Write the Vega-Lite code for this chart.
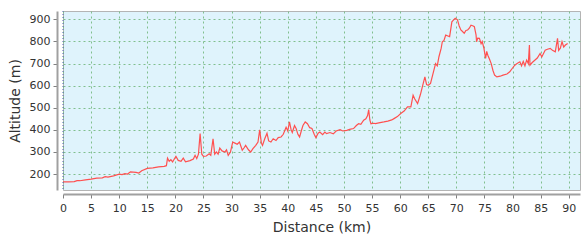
{
  "$schema": "https://vega.github.io/schema/vega-lite/v6.json",
  "autosize": {"type": "none"},
  "padding": {"left": 63, "top": 11, "right": 3, "bottom": 52},
  "width": 517,
  "height": 179,
  "background": "white",
  "config": {
    "view": {"fill": "#dff3fc", "stroke": "#b4b4b4", "strokeWidth": 1},
    "axis": {
      "labelFont": "DejaVu Sans",
      "titleFont": "DejaVu Sans",
      "labelFontSize": 11,
      "titleFontSize": 14,
      "titleFontWeight": "normal",
      "labelColor": "#333333",
      "titleColor": "#333333",
      "domainColor": "#a0a0a0",
      "domainWidth": 2,
      "tickColor": "#808080",
      "tickSize": 4,
      "gridColor": "#80bf8e",
      "gridDash": [2, 3],
      "gridWidth": 1,
      "gridOpacity": 1
    }
  },
  "data": {"values": [
    {"km":0,"alt":165},{"km":1,"alt":165},{"km":2,"alt":166},{"km":2.5,"alt":170},{"km":3,"alt":170},{"km":4,"alt":174},{"km":5,"alt":177},{"km":6,"alt":182},{"km":7,"alt":183},{"km":7.5,"alt":188},{"km":8,"alt":186},{"km":9,"alt":192},{"km":10,"alt":200},{"km":10.5,"alt":198},{"km":11,"alt":202},{"km":11.5,"alt":200},{"km":12,"alt":210},{"km":13,"alt":208},{"km":13.5,"alt":205},{"km":14,"alt":215},{"km":15,"alt":226},{"km":16,"alt":228},{"km":17,"alt":233},{"km":18,"alt":235},{"km":18.4,"alt":238},{"km":18.6,"alt":272},{"km":18.9,"alt":258},{"km":19.2,"alt":265},{"km":19.5,"alt":255},{"km":19.8,"alt":268},{"km":20.1,"alt":280},{"km":20.5,"alt":262},{"km":21,"alt":258},{"km":21.4,"alt":272},{"km":21.8,"alt":256},{"km":22.6,"alt":261},{"km":23.2,"alt":268},{"km":23.5,"alt":285},{"km":23.8,"alt":270},{"km":24.1,"alt":290},{"km":24.4,"alt":383},{"km":24.7,"alt":290},{"km":25,"alt":280},{"km":25.5,"alt":282},{"km":26,"alt":292},{"km":26.3,"alt":285},{"km":26.7,"alt":360},{"km":27,"alt":290},{"km":27.3,"alt":300},{"km":27.6,"alt":290},{"km":27.9,"alt":318},{"km":28.3,"alt":305},{"km":28.8,"alt":300},{"km":29.1,"alt":310},{"km":29.4,"alt":285},{"km":29.8,"alt":300},{"km":30.2,"alt":345},{"km":30.6,"alt":340},{"km":31,"alt":335},{"km":31.4,"alt":345},{"km":31.9,"alt":308},{"km":32.2,"alt":318},{"km":32.5,"alt":330},{"km":33,"alt":310},{"km":33.4,"alt":300},{"km":33.8,"alt":315},{"km":34.3,"alt":330},{"km":34.7,"alt":345},{"km":35,"alt":400},{"km":35.3,"alt":340},{"km":35.5,"alt":330},{"km":35.9,"alt":360},{"km":36.3,"alt":385},{"km":36.6,"alt":350},{"km":37,"alt":345},{"km":37.4,"alt":360},{"km":37.9,"alt":352},{"km":38.3,"alt":365},{"km":38.8,"alt":368},{"km":39.2,"alt":380},{"km":39.7,"alt":412},{"km":40,"alt":395},{"km":40.3,"alt":436},{"km":40.6,"alt":400},{"km":40.8,"alt":388},{"km":41.2,"alt":420},{"km":41.5,"alt":405},{"km":41.8,"alt":380},{"km":42.1,"alt":368},{"km":42.4,"alt":395},{"km":42.7,"alt":420},{"km":43.1,"alt":436},{"km":43.5,"alt":428},{"km":43.9,"alt":410},{"km":44.3,"alt":406},{"km":44.7,"alt":380},{"km":45,"alt":365},{"km":45.4,"alt":385},{"km":45.7,"alt":390},{"km":46.2,"alt":378},{"km":46.6,"alt":390},{"km":46.9,"alt":383},{"km":47.5,"alt":388},{"km":48.1,"alt":382},{"km":48.6,"alt":395},{"km":49.3,"alt":401},{"km":49.8,"alt":395},{"km":50.5,"alt":398},{"km":51,"alt":402},{"km":51.7,"alt":406},{"km":52.2,"alt":420},{"km":52.6,"alt":428},{"km":53,"alt":425},{"km":53.5,"alt":444},{"km":53.9,"alt":450},{"km":54.2,"alt":465},{"km":54.4,"alt":492},{"km":54.6,"alt":445},{"km":54.8,"alt":428},{"km":55.3,"alt":430},{"km":55.6,"alt":428},{"km":56.2,"alt":432},{"km":57.1,"alt":436},{"km":57.8,"alt":440},{"km":58.5,"alt":445},{"km":58.9,"alt":451},{"km":59.5,"alt":460},{"km":60.1,"alt":474},{"km":60.7,"alt":485},{"km":61.3,"alt":504},{"km":61.9,"alt":504},{"km":62.3,"alt":557},{"km":62.6,"alt":540},{"km":63.1,"alt":519},{"km":63.6,"alt":560},{"km":64,"alt":600},{"km":64.4,"alt":640},{"km":64.7,"alt":605},{"km":65,"alt":602},{"km":65.4,"alt":610},{"km":65.9,"alt":660},{"km":66.3,"alt":700},{"km":66.6,"alt":690},{"km":66.9,"alt":731},{"km":67.3,"alt":770},{"km":67.5,"alt":799},{"km":67.8,"alt":805},{"km":68.1,"alt":829},{"km":68.5,"alt":825},{"km":68.8,"alt":822},{"km":69.2,"alt":889},{"km":69.6,"alt":900},{"km":69.8,"alt":905},{"km":70.2,"alt":898},{"km":70.5,"alt":870},{"km":70.8,"alt":852},{"km":71.1,"alt":845},{"km":71.4,"alt":837},{"km":71.7,"alt":850},{"km":72,"alt":852},{"km":72.3,"alt":860},{"km":72.6,"alt":874},{"km":73,"alt":870},{"km":73.2,"alt":867},{"km":73.5,"alt":830},{"km":73.6,"alt":799},{"km":73.8,"alt":815},{"km":74.1,"alt":814},{"km":74.4,"alt":790},{"km":74.6,"alt":800},{"km":74.9,"alt":770},{"km":75.2,"alt":723},{"km":75.4,"alt":755},{"km":75.6,"alt":738},{"km":75.9,"alt":720},{"km":76.2,"alt":700},{"km":76.5,"alt":670},{"km":76.8,"alt":648},{"km":77.2,"alt":640},{"km":77.8,"alt":643},{"km":78.3,"alt":648},{"km":79,"alt":653},{"km":79.5,"alt":663},{"km":80,"alt":680},{"km":80.4,"alt":693},{"km":80.8,"alt":700},{"km":81.3,"alt":708},{"km":81.6,"alt":690},{"km":81.9,"alt":710},{"km":82.2,"alt":690},{"km":82.5,"alt":716},{"km":82.8,"alt":700},{"km":83,"alt":784},{"km":83.1,"alt":693},{"km":83.5,"alt":705},{"km":84,"alt":716},{"km":84.4,"alt":725},{"km":84.9,"alt":746},{"km":85.2,"alt":730},{"km":85.8,"alt":761},{"km":86.2,"alt":765},{"km":86.7,"alt":769},{"km":87.1,"alt":760},{"km":87.6,"alt":753},{"km":88,"alt":814},{"km":88.2,"alt":760},{"km":88.5,"alt":770},{"km":88.8,"alt":799},{"km":89.1,"alt":775},{"km":89.4,"alt":784},{"km":89.8,"alt":791}
  ]},
  "layer": [
    {
      "mark": {"type": "line", "color": "#ff5050", "strokeWidth": 1.2, "clip": true},
      "encoding": {
        "x": {"field": "km", "type": "quantitative",
              "scale": {"domain": [0, 92], "nice": false, "zero": false},
              "axis": {"title": "Distance (km)", "values": [0,5,10,15,20,25,30,35,40,45,50,55,60,65,70,75,80,85,90], "offset": 4, "labelPadding": 4, "titlePadding": 7, "labelFlush": false, "labelOverlap": false, "labelBound": false}},
        "y": {"field": "alt", "type": "quantitative",
              "scale": {"domain": [128, 938], "nice": false, "zero": false},
              "axis": {"title": "Altitude (m)", "values": [200,300,400,500,600,700,800,900], "offset": 6, "labelPadding": 3, "titlePadding": 7, "labelOverlap": false}}
      }
    },
    {
      "data": {"values": [{"x0": 0}]},
      "mark": {"type": "rule", "color": "#5060b0", "strokeDash": [1, 2], "strokeWidth": 1},
      "encoding": {"x": {"field": "x0", "type": "quantitative",
              "axis": {"title": "Distance (km)", "values": [0,5,10,15,20,25,30,35,40,45,50,55,60,65,70,75,80,85,90], "offset": 4, "labelPadding": 4, "titlePadding": 7, "labelFlush": false, "labelOverlap": false, "labelBound": false}}}
    }
  ]
}
